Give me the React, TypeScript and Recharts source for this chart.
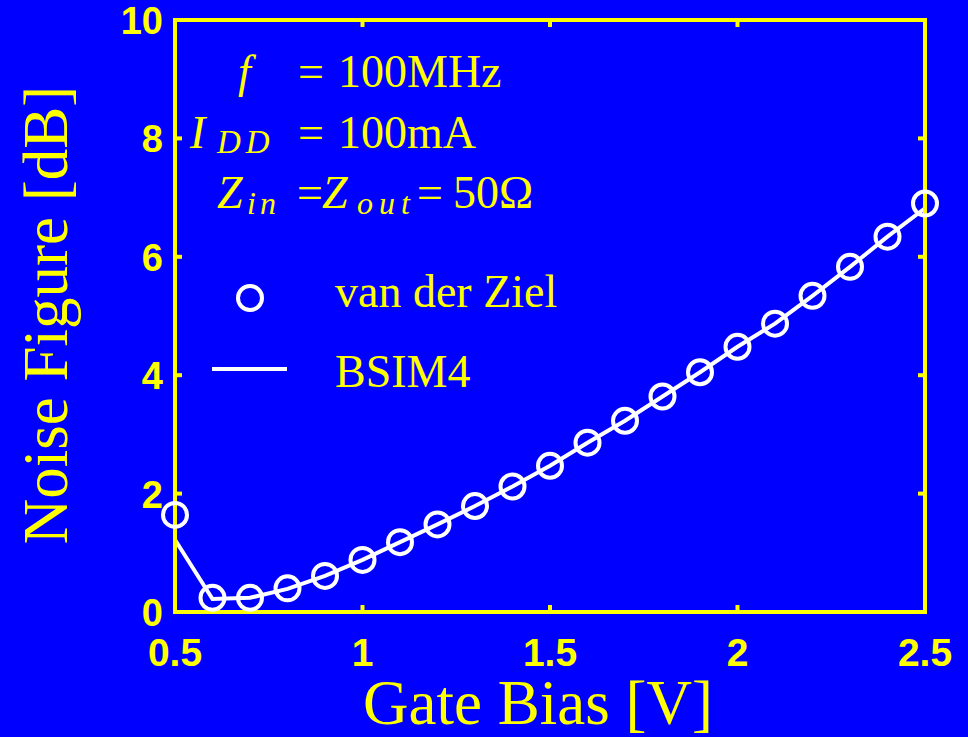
import React from 'react';
import { LineChart, Line, XAxis, YAxis } from 'recharts';

const gateBias = [0.5, 0.6, 0.7, 0.8, 0.9, 1.0, 1.1, 1.2, 1.3, 1.4, 1.5, 1.6, 1.7, 1.8, 1.9, 2.0, 2.1, 2.2, 2.3, 2.4, 2.5];
const vanDerZiel = [1.64, 0.24, 0.24, 0.4, 0.61, 0.88, 1.18, 1.48, 1.79, 2.12, 2.47, 2.86, 3.23, 3.64, 4.05, 4.48, 4.87, 5.34, 5.83, 6.34, 6.9];
const bsim4 = [1.22, 0.22, 0.24, 0.39, 0.61, 0.88, 1.18, 1.48, 1.79, 2.12, 2.47, 2.86, 3.23, 3.64, 4.05, 4.48, 4.87, 5.34, 5.83, 6.34, 6.82];
const xTicks = [0.5, 1, 1.5, 2, 2.5];
const yTicks = [0, 2, 4, 6, 8, 10];

const zielData = gateBias.map((x, i) => ({ x, nf: vanDerZiel[i] }));
const bsimData = gateBias.map((x, i) => ({ x, nf: bsim4[i] }));

const YEL = '#ffff00';
const BLUE = '#0000ff';
const SANS = '"Liberation Sans", Arial, sans-serif';
const SERIF = '"Liberation Serif", "Times New Roman", serif';
const axisLineStyle = { stroke: YEL, strokeWidth: 4, strokeLinecap: 'square' as const };

const BottomTick = (props: any) => {
  const { x, y, payload } = props;
  return (
    <g>
      <line x1={x} y1={y} x2={x} y2={y - 7} stroke={YEL} strokeWidth={4} />
      <text x={x} y={y + 54} textAnchor="middle" fill={YEL} fontFamily={SANS} fontWeight="bold" fontSize={39}>
        {payload.value}
      </text>
    </g>
  );
};

const TopTick = (props: any) => {
  const { x, y } = props;
  return <line x1={x} y1={y} x2={x} y2={y + 7} stroke={YEL} strokeWidth={4} />;
};

const LeftTick = (props: any) => {
  const { x, y, payload } = props;
  return (
    <g>
      <line x1={x} y1={y} x2={x + 7} y2={y} stroke={YEL} strokeWidth={4} />
      <text x={x - 12} y={y + 14} textAnchor="end" fill={YEL} fontFamily={SANS} fontWeight="bold" fontSize={38}>
        {payload.value}
      </text>
    </g>
  );
};

const RightTick = (props: any) => {
  const { x, y } = props;
  return <line x1={x} y1={y} x2={x - 7} y2={y} stroke={YEL} strokeWidth={4} />;
};

export default function App() {
  return (
    <div style={{ position: 'fixed', left: 0, top: 0, width: 968, height: 737, background: BLUE, overflow: 'hidden' }}>
      <div style={{ position: 'relative', width: 968, height: 737 }}>
        <LineChart width={968} height={737} margin={{ top: 19, right: 42, bottom: 0, left: 0 }}>
          <XAxis
            xAxisId="b"
            dataKey="x"
            type="number"
            domain={[0.5, 2.5]}
            ticks={xTicks}
            height={125}
            tickSize={0}
            tickMargin={0}
            tickLine={false}
            axisLine={axisLineStyle}
            tick={<BottomTick />}
            interval={0}
          />
          <XAxis
            xAxisId="t"
            orientation="top"
            dataKey="x"
            type="number"
            domain={[0.5, 2.5]}
            ticks={xTicks}
            height={1}
            tickSize={0}
            tickMargin={0}
            tickLine={false}
            axisLine={axisLineStyle}
            tick={<TopTick />}
            interval={0}
          />
          <YAxis
            yAxisId="l"
            type="number"
            domain={[0, 10]}
            ticks={yTicks}
            width={175}
            tickSize={0}
            tickMargin={0}
            tickLine={false}
            axisLine={axisLineStyle}
            tick={<LeftTick />}
            interval={0}
          />
          <YAxis
            yAxisId="r"
            orientation="right"
            type="number"
            domain={[0, 10]}
            ticks={yTicks}
            width={1}
            tickSize={0}
            tickMargin={0}
            tickLine={false}
            axisLine={axisLineStyle}
            tick={<RightTick />}
            interval={0}
          />
          <Line
            xAxisId="t"
            yAxisId="r"
            data={bsimData}
            dataKey="nf"
            stroke="none"
            dot={false}
            legendType="none"
            isAnimationActive={false}
          />
          <Line
            xAxisId="b"
            yAxisId="l"
            data={bsimData}
            dataKey="nf"
            name="BSIM4"
            stroke="#ffffff"
            strokeWidth={4}
            dot={false}
            type="linear"
            isAnimationActive={false}
          />
          <Line
            xAxisId="b"
            yAxisId="l"
            data={zielData}
            dataKey="nf"
            name="van der Ziel"
            stroke="none"
            dot={{ r: 12, stroke: '#ffffff', strokeWidth: 4, fill: 'none' }}
            type="linear"
            isAnimationActive={false}
          />
        </LineChart>
        <svg width={968} height={737} style={{ position: 'absolute', left: 0, top: 0, pointerEvents: 'none' }}>
          <g fill={YEL} fontFamily={SERIF}>
            <text x={238} y={87} fontSize={46} fontStyle="italic">f</text>
            <text x={298} y={87} fontSize={46}>=</text>
            <text x={338} y={87} fontSize={46}>100MHz</text>

            <text x={190} y={148} fontSize={46} fontStyle="italic">I</text>
            <text x={217} y={153} fontSize={33} fontStyle="italic" letterSpacing={5}>DD</text>
            <text x={298} y={148} fontSize={46}>=</text>
            <text x={338} y={148} fontSize={46}>100mA</text>

            <text x={217} y={208} fontSize={46} fontStyle="italic">Z</text>
            <text x={247} y={214} fontSize={32} fontStyle="italic" letterSpacing={4}>in</text>
            <text x={297} y={208} fontSize={46}>=</text>
            <text x={322} y={208} fontSize={46} fontStyle="italic">Z</text>
            <text x={357} y={214} fontSize={32} fontStyle="italic" letterSpacing={6}>out</text>
            <text x={417} y={208} fontSize={46}>=</text>
            <text x={453} y={208} fontSize={46}>50Ω</text>

            <text x={335} y={307} fontSize={46}>van der Ziel</text>
            <text x={335} y={387} fontSize={46}>BSIM4</text>

            <text x={538} y={724} fontSize={63} textAnchor="middle">Gate Bias [V]</text>
            <text x={67} y={315} fontSize={63} textAnchor="middle" transform="rotate(-90, 67, 315)">Noise Figure [dB]</text>
          </g>
          <circle cx={250} cy={298} r={12} stroke="#ffffff" strokeWidth={4} fill="none" />
          <line x1={212} y1={369} x2={287} y2={369} stroke="#ffffff" strokeWidth={4} />
        </svg>
      </div>
    </div>
  );
}
